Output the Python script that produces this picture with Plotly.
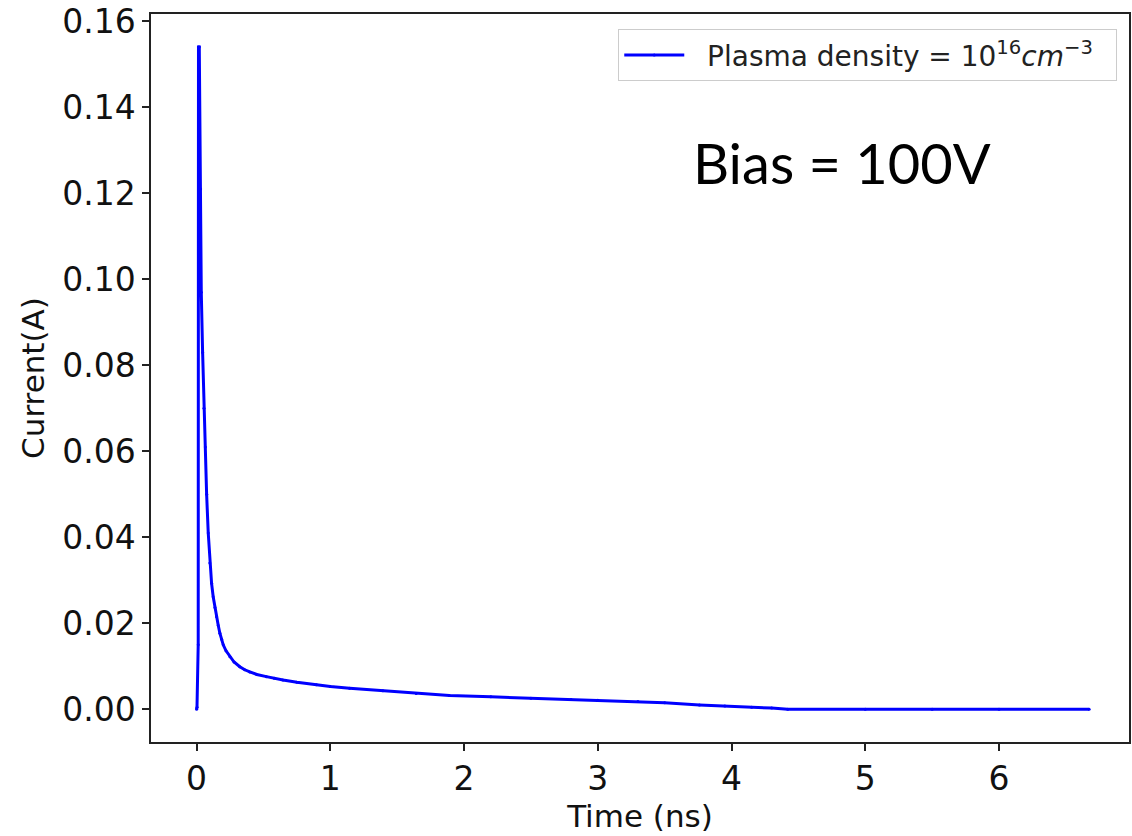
import plotly.graph_objects as go

# Data (time in ns, current in A)
time_ns = [0.000, 0.003, 0.012, 0.014, 0.020, 0.030, 0.035, 0.045, 0.055, 0.065,
           0.075, 0.087, 0.099, 0.112, 0.124, 0.137, 0.149, 0.162, 0.174, 0.187,
           0.199, 0.220, 0.249, 0.280, 0.323, 0.360, 0.398, 0.450, 0.522, 0.580,
           0.646, 0.750, 0.896, 1.000, 1.144, 1.393, 1.642, 1.890, 2.200, 2.500,
           2.800, 3.000, 3.300, 3.500, 3.760, 3.950, 4.150, 4.300, 4.420, 5.000,
           5.500, 6.000, 6.674]
current_a = [0.0000, 0.0005, 0.0150, 0.1540, 0.1540, 0.1210, 0.0970, 0.0830, 0.0700, 0.0610,
             0.0500, 0.0410, 0.0340, 0.0293, 0.0262, 0.0237, 0.0215, 0.0195, 0.0177, 0.0163,
             0.0150, 0.0136, 0.0122, 0.0110, 0.0099, 0.0092, 0.0087, 0.0081, 0.0076, 0.0072,
             0.0068, 0.0063, 0.0057, 0.0053, 0.0049, 0.0043, 0.0037, 0.0032, 0.0029, 0.0026,
             0.0023, 0.0021, 0.0018, 0.0015, 0.0010, 0.0008, 0.0005, 0.0003, 0.0000, 0.0000,
             0.0000, 0.0000, 0.0000]

x_ticks = [0, 1, 2, 3, 4, 5, 6]
y_ticks = [0.00, 0.02, 0.04, 0.06, 0.08, 0.10, 0.12, 0.14, 0.16]

FONT = "DejaVu Sans"

fig = go.Figure()
fig.add_trace(go.Scatter(
    x=time_ns, y=current_a,
    mode="lines+markers",
    line=dict(color="#0000ff", width=3),
    marker=dict(color="#0000ff", size=3),
    name="\u00a0\u00a0Plasma density = 10<sup>16</sup><i>cm</i><sup>\u22123</sup>\u00a0\u00a0",
    showlegend=True,
))

axis_common = dict(
    showline=True, linecolor="#222222", linewidth=1.5, mirror=True,
    ticks="outside", ticklen=7, tickwidth=1.5, tickcolor="#222222",
    showgrid=False, zeroline=False,
    tickfont=dict(family=FONT, size=33, color="#111111"),
)

fig.update_xaxes(
    range=[-0.341, 6.972], tickvals=x_ticks, ticktext=[str(v) for v in x_ticks],
    title=dict(text="Time (ns)", font=dict(family=FONT, size=31, color="#111111"), standoff=8),
    **axis_common,
)
fig.update_yaxes(
    range=[-0.0076, 0.1617], tickvals=y_ticks, ticktext=[f"{v:.2f}" for v in y_ticks],
    title=dict(text="Current(A)", font=dict(family=FONT, size=31, color="#111111"), standoff=8),
    **axis_common,
)

fig.add_annotation(
    xref="paper", yref="paper",
    x=(843 - 151) / 980, y=1 - (163 - 14) / 728, showarrow=False,
    text="Bias = 100V", font=dict(family="Lato", size=56, color="#000000"),
    xanchor="center", yanchor="middle",
)

fig.update_layout(
    width=1132, height=836,
    margin=dict(l=151, r=1, t=14, b=94),
    paper_bgcolor="white", plot_bgcolor="white",
    font=dict(family=FONT, color="#000000"),
    legend=dict(
        x=0.988, y=0.979, xanchor="right", yanchor="top",
        bgcolor="rgba(255,255,255,0.8)", bordercolor="#cccccc", borderwidth=1,
        font=dict(family=FONT, size=28, color="#222222"),
        itemwidth=60,
    ),
)

fig.write_html("out.html")
